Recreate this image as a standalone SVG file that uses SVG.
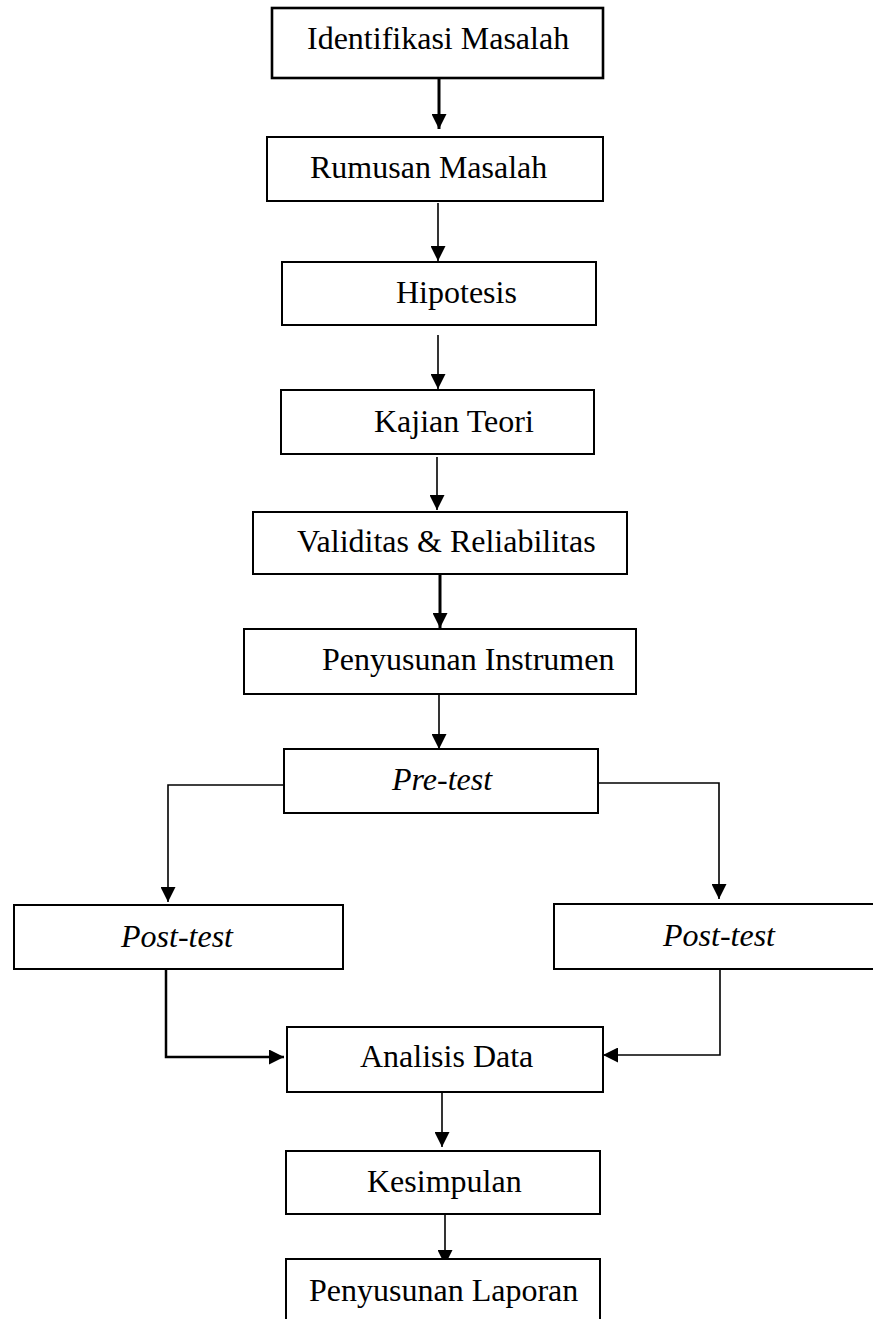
<svg xmlns="http://www.w3.org/2000/svg" width="873" height="1319" viewBox="0 0 873 1319">
<style>
.box{fill:#fff;stroke:#000;stroke-width:2}
.t{font-family:"Liberation Serif","Times New Roman",serif;font-size:32px;fill:#000}
.i{font-style:italic}
.c{fill:none;stroke:#000;stroke-width:1.6}
.thick{stroke-width:3}
</style>
<defs>
<marker id="ah" viewBox="0 0 15 15" refX="15" refY="7.5" markerWidth="15" markerHeight="15" markerUnits="userSpaceOnUse" orient="auto">
<path d="M0,0 L15,7.5 L0,15 z" fill="#000"/>
</marker>
</defs>
<rect width="873" height="1319" fill="#fff"/>
<g id="connectors">
<line class="c thick" x1="439" y1="78" x2="439" y2="129" marker-end="url(#ah)"/>
<line class="c" x1="438" y1="203" x2="438" y2="261" marker-end="url(#ah)"/>
<line class="c" x1="438" y1="335" x2="438" y2="389" marker-end="url(#ah)"/>
<line class="c" x1="437" y1="457" x2="437" y2="510" marker-end="url(#ah)"/>
<line class="c thick" x1="440" y1="574" x2="440" y2="628" marker-end="url(#ah)"/>
<line class="c" x1="439" y1="695" x2="439" y2="749" marker-end="url(#ah)"/>
<polyline class="c" points="284,785 168,785 168,902" marker-end="url(#ah)"/>
<polyline class="c" points="598,783 719,783 719,899" marker-end="url(#ah)"/>
<polyline class="c" style="stroke-width:2.5" points="166,969 166,1057 284,1057" marker-end="url(#ah)"/>
<polyline class="c" points="720,969 720,1055 603,1055" marker-end="url(#ah)"/>
<line class="c" x1="442" y1="1092" x2="442" y2="1147" marker-end="url(#ah)"/>
<line class="c" x1="445" y1="1212" x2="445" y2="1265" marker-end="url(#ah)"/>
</g>
<g id="n1"><rect class="box" style="stroke-width:2.6" x="272" y="8" width="331" height="70"/><text class="t" x="307" y="49">Identifikasi Masalah</text></g>
<g id="n2"><rect class="box" x="267" y="137" width="336" height="64"/><text class="t" x="310" y="178">Rumusan Masalah</text></g>
<g id="n3"><rect class="box" x="282" y="262" width="314" height="63"/><text class="t" x="396" y="303">Hipotesis</text></g>
<g id="n4"><rect class="box" x="281" y="390" width="313" height="64"/><text class="t" x="374" y="432">Kajian Teori</text></g>
<g id="n5"><rect class="box" x="253" y="512" width="374" height="62"/><text class="t" x="297" y="552">Validitas &amp; Reliabilitas</text></g>
<g id="n6"><rect class="box" x="244" y="629" width="392" height="65"/><text class="t" x="322" y="670">Penyusunan Instrumen</text></g>
<g id="n7"><rect class="box" x="284" y="749" width="314" height="64"/><text class="t i" x="392" y="790">Pre-test</text></g>
<g id="n8"><rect class="box" x="14" y="905" width="329" height="64"/><text class="t i" x="121" y="947">Post-test</text></g>
<g id="n9"><rect class="box" x="554" y="904" width="330" height="65"/><text class="t i" x="663" y="946">Post-test</text></g>
<g id="n10"><rect class="box" x="287" y="1027" width="316" height="65"/><text class="t" x="360" y="1067">Analisis Data</text></g>
<g id="n11"><rect class="box" x="286" y="1151" width="314" height="63"/><text class="t" x="367" y="1192">Kesimpulan</text></g>
<g id="n12"><rect class="box" x="286" y="1259" width="314" height="80"/><text class="t" x="309" y="1301">Penyusunan Laporan</text></g>
</svg>
